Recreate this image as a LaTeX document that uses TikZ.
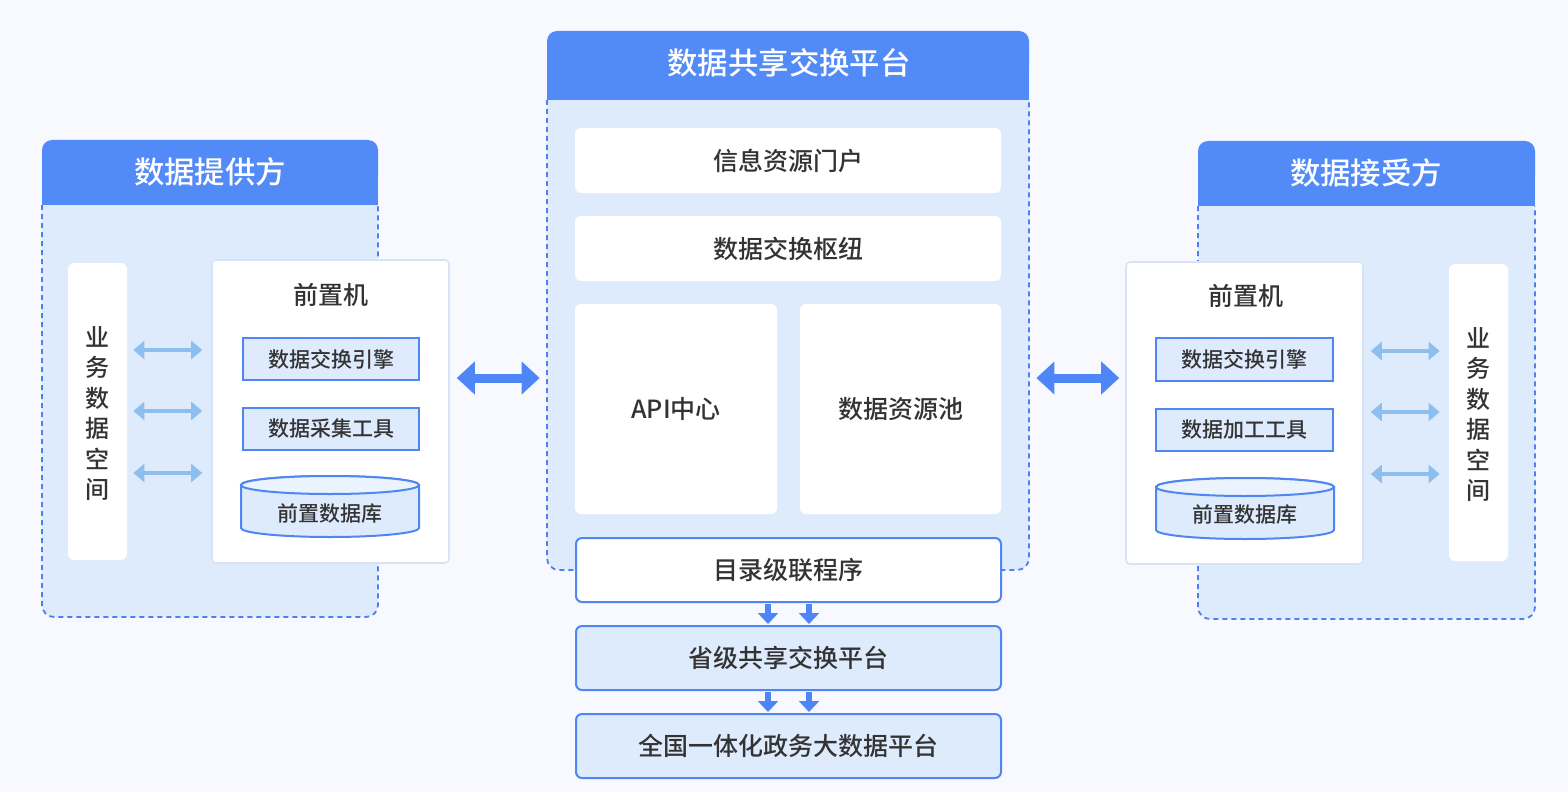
\documentclass[tikz,border=0pt]{standalone}
\usepackage{fontspec}
\setmainfont{Noto Sans CJK SC}
\newfontfamily\medfont{Noto Sans CJK SC Medium}
\usetikzlibrary{arrows.meta,fit}
\definecolor{bg}{HTML}{F7F9FE}
\definecolor{hdr}{HTML}{528BF8}
\definecolor{panel}{HTML}{DEEBFD}
\definecolor{dashc}{HTML}{4E7FEF}
\definecolor{boxb}{HTML}{4F86F3}
\definecolor{txt}{HTML}{333333}
\definecolor{lar}{HTML}{8DBEEE}
\definecolor{dar}{HTML}{4E86F7}
\definecolor{wb}{HTML}{D8E4F6}
\tikzset{
  hdrtxt/.style={text=white, font=\fontsize{15.2}{18}\selectfont\medfont},
  mtxt/.style={text=txt, font=\fontsize{12.5}{15}\selectfont\medfont},
  stxt/.style={text=txt, font=\fontsize{10.5}{13}\selectfont\medfont},
  vtxt/.style={text=txt, font=\fontsize{12}{15.2}\selectfont\medfont, align=center},
  wbox/.style={fill=white, rounded corners=3pt, inner sep=0pt},
  fbox/.style={fill=white, draw=wb, line width=0.8pt, rounded corners=2pt, inner sep=0pt},
  bbox/.style={fill=panel, draw=boxb, line width=1pt, inner sep=0pt},
  rbox/.style={draw=boxb, line width=1pt, rounded corners=3pt, inner sep=0pt},
  dashb/.style={draw=dashc, line width=0.9pt, dash pattern=on 2.5pt off 2pt, rounded corners=6pt},
  bigarr/.style={{Triangle[width=16pt,length=9pt]}-{Triangle[width=16pt,length=9pt]}, line width=4.5pt, draw=dar},
  smarr/.style={{Triangle[width=9pt,length=5.5pt]}-{Triangle[width=9pt,length=5.5pt]}, line width=2.4pt, draw=lar},
  dnarr/.style={-{Triangle[width=10pt,length=5.5pt]}, line width=2.8pt, draw=dar},
}
\begin{document}
\begin{tikzpicture}[x=0.5pt,y=-0.5pt]
\useasboundingbox[fill=bg] (0,0) rectangle (1568,792);

% ---------- left panel ----------
\fill[panel, rounded corners=6pt] (42,160) rectangle (378,617);
\fill[hdr, rounded corners=5pt] (42,140) rectangle (378,185);
\fill[hdr] (42,170) rectangle (378,205);
\draw[dashb] (42,205) -- (42,617) -- (378,617) -- (378,205);
\node[hdrtxt] (lhead) at (210,172) {数据提供方};

\node[wbox, fit={(68,263) (127,560)}] (lspace) {};
\node[vtxt] at ([yshift=-1pt]lspace.center) {业\\务\\数\\据\\空\\间};

\node[fbox, fit={(212,260) (449,563)}] (lfront) {};
\node[mtxt] (lftitle) at (331,295) {前置机};
\node[bbox, fit={(243,338) (419,380)}] (lengine) {};
\node[stxt] at (lengine.center) {数据交换引擎};
\node[bbox, fit={(243,408) (419,450)}] (lcollect) {};
\node[stxt] at (lcollect.center) {数据采集工具};
\filldraw[fill=panel, draw=boxb, line width=1pt] (241,485) -- (241,528) arc[start angle=180, end angle=360, x radius=44.5pt, y radius=4.5pt] -- (419,485) arc[start angle=0, end angle=180, x radius=44.5pt, y radius=4.5pt] -- cycle;
\draw[boxb, line width=1pt, fill=panel!60!white] (330,485) ellipse [x radius=44.5pt, y radius=4.5pt];
\node[stxt] (ldb) at (330,514) {前置数据库};

\foreach \yy in {350,411,473}
  \draw[smarr, shorten <=3pt, shorten >=4.5pt] (lspace.east |- {(0,\yy)}) -- (lfront.west |- {(0,\yy)});

% ---------- center panel ----------
\fill[panel, rounded corners=6pt] (547,50) rectangle (1029,570);
\fill[hdr, rounded corners=5pt] (547,31) rectangle (1029,75);
\fill[hdr] (547,60) rectangle (1029,100);
\draw[dashb] (547,100) -- (547,570) -- (1029,570) -- (1029,100);
\node[fit={(547,100) (1029,570)}, inner sep=0pt] (cpanel) {};
\node[hdrtxt] (chead) at (789,63) {数据共享交换平台};

\node[wbox, fit={(575,128) (1001,193)}] (portal) {};
\node[mtxt] at (portal.center) {信息资源门户};
\node[wbox, fit={(575,216) (1001,281)}] (hub) {};
\node[mtxt] at (hub.center) {数据交换枢纽};
\node[wbox, fit={(575,304) (777,514)}] (api) {};
\node[mtxt] at (api.center) {API中心};
\node[wbox, fit={(800,304) (1001,514)}] (pool) {};
\node[mtxt] at (pool.center) {数据资源池};

\node[rbox, fill=white, fit={(576,538) (1001,602)}] (mulu) {};
\node[mtxt] at (mulu.center) {目录级联程序};
\node[rbox, fill=panel, fit={(576,626) (1001,690)}] (prov) {};
\node[mtxt] at (prov.center) {省级共享交换平台};
\node[rbox, fill=panel, fit={(576,714) (1001,778)}] (nat) {};
\node[mtxt] at (nat.center) {全国一体化政务大数据平台};

\foreach \xx in {768,809} {
  \draw[dnarr, shorten <=0.5pt, shorten >=0.5pt] (mulu.south -| {(\xx,0)}) -- (prov.north -| {(\xx,0)});
  \draw[dnarr, shorten <=0.5pt, shorten >=0.5pt] (prov.south -| {(\xx,0)}) -- (nat.north -| {(\xx,0)});
}

% ---------- right panel ----------
\fill[panel, rounded corners=6pt] (1198,160) rectangle (1535,619);
\fill[hdr, rounded corners=5pt] (1198,141) rectangle (1535,186);
\fill[hdr] (1198,171) rectangle (1535,206);
\draw[dashb] (1198,206) -- (1198,619) -- (1535,619) -- (1535,206);
\node[hdrtxt] (rhead) at (1366,173) {数据接受方};

\node[wbox, fit={(1449,264) (1508,561)}] (rspace) {};
\node[vtxt] at ([yshift=-1pt]rspace.center) {业\\务\\数\\据\\空\\间};

\node[fbox, fit={(1126,262) (1363,564)}] (rfront) {};
\node[mtxt] (rftitle) at (1246,296) {前置机};
\node[bbox, fit={(1156,338) (1333,381)}] (rengine) {};
\node[stxt] at (rengine.center) {数据交换引擎};
\node[bbox, fit={(1156,409) (1333,451)}] (rproc) {};
\node[stxt] at (rproc.center) {数据加工工具};
\filldraw[fill=panel, draw=boxb, line width=1pt] (1156,487) -- (1156,530) arc[start angle=180, end angle=360, x radius=44.5pt, y radius=4.5pt] -- (1334,487) arc[start angle=0, end angle=180, x radius=44.5pt, y radius=4.5pt] -- cycle;
\draw[boxb, line width=1pt, fill=panel!60!white] (1245,487) ellipse [x radius=44.5pt, y radius=4.5pt];
\node[stxt] (rdb) at (1245,515) {前置数据库};

\foreach \yy in {351,412,474}
  \draw[smarr, shorten <=3.5pt, shorten >=4.5pt] (rfront.east |- {(0,\yy)}) -- (rspace.west |- {(0,\yy)});

% ---------- big arrows ----------
\draw[bigarr, shorten <=3.5pt, shorten >=3.5pt] (lfront.east |- {(0,378)}) -- (cpanel.west |- {(0,378)});
\draw[bigarr, shorten <=3.5pt, shorten >=3pt] (cpanel.east |- {(0,378)}) -- (rfront.west |- {(0,378)});
\end{tikzpicture}
\end{document}
